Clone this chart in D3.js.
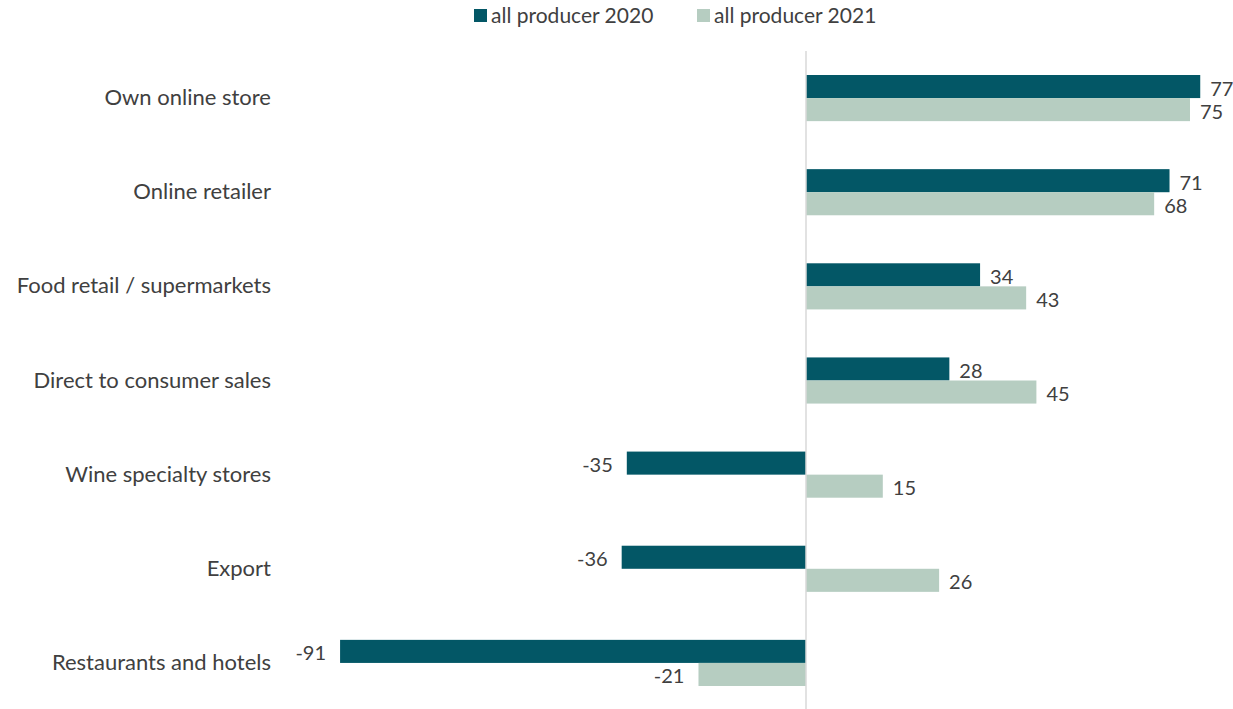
<!DOCTYPE html>
<html>
<head>
<meta charset="utf-8">
<script src="https://cdn.jsdelivr.net/npm/d3@7"></script>
<style>
  body { margin: 0; background: #fff; }
  text { font-family: Lato, "Open Sans", sans-serif; fill: #404040; }
</style>
</head>
<body>
<div id="chart"></div>
<script>
const categories = ["Own online store", "Online retailer", "Food retail / supermarkets",
  "Direct to consumer sales", "Wine specialty stores", "Export", "Restaurants and hotels"]
const series_names = ["all producer 2020", "all producer 2021"]
const values_2020 = [77, 71, 34, 28, -35, -36, -91]
const values_2021 = [75, 68, 43, 45, 15, 26, -21]
const colors = ["#035766", "#b6cdc1"]

const width = 1233
const height = 709

const svg = d3.select("#chart").append("svg")
  .attr("width", width)
  .attr("height", height)

// x scale: zero at 806, ~5.12 px per unit
const x = d3.scaleLinear().domain([-100, 100]).range([294, 1318])

const y = d3.scaleBand().domain(categories).range([51, 710]).paddingInner(0.51).paddingOuter(0.255)
const ySub = d3.scaleBand().domain([0, 1]).range([0, y.bandwidth()])

const data = []
categories.forEach((c, i) => {
  data.push({ cat: c, s: 0, v: values_2020[i] })
  data.push({ cat: c, s: 1, v: values_2021[i] })
})

// bars
svg.append("g").selectAll("rect")
  .data(data)
  .join("rect")
  .attr("x", d => x(Math.min(0, d.v)))
  .attr("y", d => y(d.cat) + ySub(d.s))
  .attr("width", d => Math.abs(x(d.v) - x(0)))
  .attr("height", ySub.bandwidth())
  .attr("fill", d => colors[d.s])

// zero axis line
svg.append("line")
  .attr("x1", x(0)).attr("x2", x(0))
  .attr("y1", 51).attr("y2", height)
  .attr("stroke", "#d9d9d9")
  .attr("stroke-width", 1.5)

// value labels
svg.append("g").selectAll("text")
  .data(data)
  .join("text")
  .attr("x", d => d.v >= 0 ? x(d.v) + 10 : x(d.v) - 14)
  .attr("y", d => y(d.cat) + ySub(d.s) + ySub.bandwidth() / 2 + 2)
  .attr("dy", "0.35em")
  .attr("text-anchor", d => d.v >= 0 ? "start" : "end")
  .style("font-size", "20px")
  .text(d => d.v)

// category labels
const yAxis = d3.axisLeft(y).tickSize(0).tickPadding(0)
const ga = svg.append("g").attr("transform", "translate(271,0)").call(yAxis)
ga.select(".domain").remove()
ga.selectAll("text")
  .style("font-size", "22px")
  .style("font-family", "Lato, 'Open Sans', sans-serif")
  .attr("fill", "#404040")

// legend
const legend = svg.append("g")
const legendX = [474, 697]
series_names.forEach((name, i) => {
  legend.append("rect")
    .attr("x", legendX[i]).attr("y", 9)
    .attr("width", 13).attr("height", 13)
    .attr("fill", colors[i])
  legend.append("text")
    .attr("x", legendX[i] + 17).attr("y", 16)
    .attr("dy", "0.35em")
    .style("font-size", "21px")
    .text(name)
})
</script>
</body>
</html>
